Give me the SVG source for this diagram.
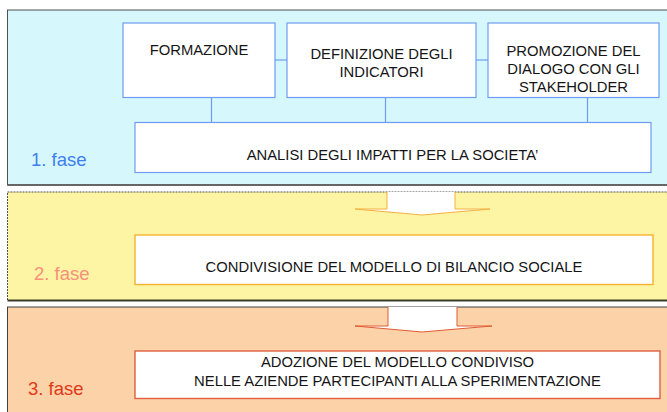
<svg xmlns="http://www.w3.org/2000/svg" width="667" height="412" viewBox="0 0 667 412">
<style>
.t{font-family:"Liberation Sans",Arial,sans-serif;font-size:14.8px;fill:#151515;text-anchor:middle}
.f{font-family:"Liberation Sans",Arial,sans-serif;font-size:18.5px}
.b1{fill:#fff;stroke:#6f9cf0;stroke-width:1.2}
.b2{fill:#fff;stroke:#f8b030;stroke-width:1.4}
.b3{fill:#fff;stroke:#e06040;stroke-width:1.4}
.c{stroke:#6f9cf0;stroke-width:1.2;fill:none}
</style>
<rect width="667" height="412" fill="#fff"/>
<g id="panel1">
<rect x="7.5" y="10" width="670" height="175" fill="#d6f7fb" stroke="#505050" stroke-width="1"/>
<line x1="7.5" y1="185" x2="667" y2="185" stroke="#666" stroke-width="2"/>
<text class="f" x="31" y="166" fill="#3f7ff0" font-size="17.5">1. fase</text>
</g>
<g id="panel2">
<rect x="7.5" y="192" width="670" height="108.5" fill="#fdf4a4" stroke="#505050" stroke-width="1" stroke-dasharray="2 1"/>
<line x1="7.5" y1="300.5" x2="667" y2="300.5" stroke="#3a3a2a" stroke-width="2"/>
<text class="f" x="34" y="280" fill="#f8907a">2. fase</text>
</g>
<g id="panel3">
<rect x="7.5" y="307" width="670" height="120" fill="#fcd3a8" stroke="#404040" stroke-width="1"/>
<text class="f" x="28" y="395" fill="#e03818">3. fase</text>
</g>
<g id="arrows">
<polygon points="387,192 455,192 455,209 490,209 422,215 355,209 387,209" fill="#fff"/>
<polyline points="387,192 387,209 355,209 422,215 490,209 455,209 455,192" fill="none" stroke="#f5b040" stroke-width="1"/>
<polygon points="388,307 457,307 457,326 492,326 422,332 355,326 388,326" fill="#fff"/>
<polyline points="388,307 388,326 355,326 422,332 492,326 457,326 457,307" fill="none" stroke="#e05a30" stroke-width="1"/>
</g>
<g id="connectors">
<line class="c" x1="275" y1="60" x2="287" y2="60"/>
<line class="c" x1="476" y1="60" x2="488" y2="60"/>
<line class="c" x1="211.5" y1="97.5" x2="211.5" y2="122.5"/>
<line class="c" x1="385.5" y1="97.5" x2="385.5" y2="122.5"/>
<line class="c" x1="587.5" y1="97.5" x2="587.5" y2="122.5"/>
</g>
<g id="formazione">
<rect class="b1" x="123" y="23" width="152" height="74.5"/>
<text class="t" x="199" y="55">FORMAZIONE</text>
</g>
<g id="definizione">
<rect class="b1" x="287" y="23" width="189" height="74.5"/>
<text class="t" x="381.5" y="59">DEFINIZIONE DEGLI</text>
<text class="t" x="381.5" y="76.5">INDICATORI</text>
</g>
<g id="promozione">
<rect class="b1" x="488" y="23" width="171" height="74.5"/>
<text class="t" x="573.5" y="55.5">PROMOZIONE DEL</text>
<text class="t" x="573.5" y="73.5">DIALOGO CON GLI</text>
<text class="t" x="573.5" y="91.5">STAKEHOLDER</text>
</g>
<g id="analisi">
<rect class="b1" x="135" y="122.5" width="516" height="50"/>
<text class="t" x="392.5" y="160">ANALISI DEGLI IMPATTI PER LA SOCIETA’</text>
</g>
<g id="condivisione">
<rect class="b2" x="135" y="235" width="518" height="49.5"/>
<text class="t" x="394" y="271.5">CONDIVISIONE DEL MODELLO DI BILANCIO SOCIALE</text>
</g>
<g id="adozione">
<rect class="b3" x="135" y="351" width="525" height="47.5"/>
<text class="t" x="397.5" y="366.5">ADOZIONE DEL MODELLO CONDIVISO</text>
<text class="t" x="397.5" y="386">NELLE AZIENDE PARTECIPANTI ALLA SPERIMENTAZIONE</text>
</g>
</svg>
